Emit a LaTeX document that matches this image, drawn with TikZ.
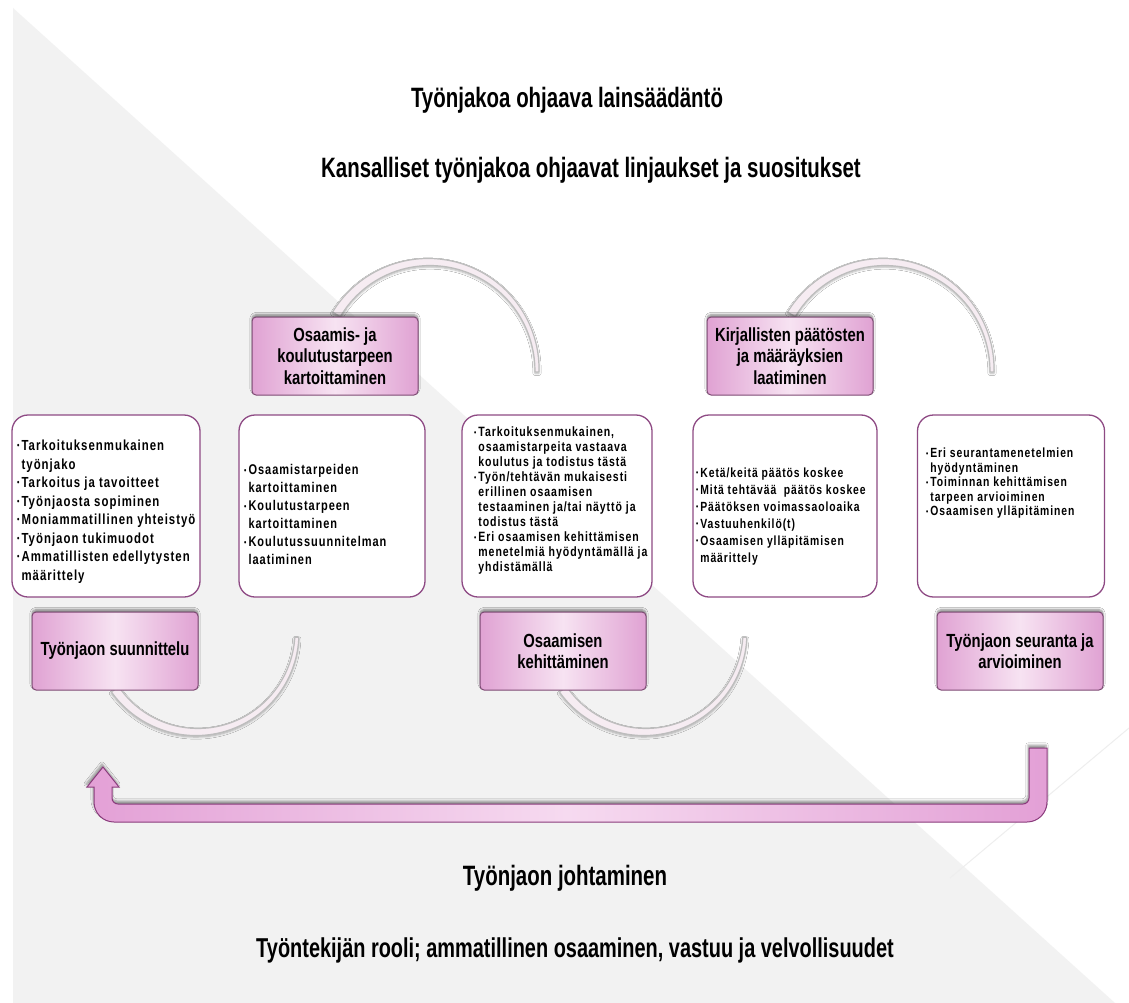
\documentclass[tikz,border=0pt]{standalone}
\usepackage{fontspec}
\usepackage{graphicx}
\setmainfont{Liberation Sans}
\newfontfamily\ttlfont{Liberation Sans}[FakeStretch=0.73]
\newfontfamily\hdfont{Liberation Sans}[FakeStretch=0.78]
\newfontfamily\bxfont{Liberation Sans}[FakeStretch=0.78,LetterSpace=7]
\usetikzlibrary{shadows.blur}

\definecolor{bggray}{HTML}{F2F2F2}
\definecolor{faint}{HTML}{EEEEEE}
\definecolor{pinkD}{HTML}{E0A2D3}
\definecolor{pinkL}{HTML}{F7E3F2}
\definecolor{pinkedge}{HTML}{7E4A74}
\definecolor{wedge}{HTML}{8E4A84}
\definecolor{arcfill}{HTML}{F6ECF2}
\definecolor{arcedge}{HTML}{BDBDBD}
\definecolor{arrD}{HTML}{E3A0D6}
\definecolor{arrL}{HTML}{F6DAF0}
\definecolor{arredge}{HTML}{8A3B7C}

\newcommand\bul{\raisebox{0.12em}{\scalebox{0.6}{\textbullet}}}

% tapered band along a circular arc: centre x, centre y, radius, start angle, sweep
\newcommand\taperarc[5]{%
  \path[arcband]
    plot[domain=0:1,samples=40,smooth]
      ({#1+(#3+(9-5*\x)/2)*cos(#4+(#5)*\x)},{#2-(#3+(9-5*\x)/2)*sin(#4+(#5)*\x)})
    -- plot[domain=1:0,samples=40,smooth]
      ({#1+(#3-(9-5*\x)/2)*cos(#4+(#5)*\x)},{#2-(#3-(9-5*\x)/2)*sin(#4+(#5)*\x)})
    -- cycle;}

\tikzset{
  title/.style={font=\ttlfont\bfseries\fontsize{28}{32}\selectfont, inner sep=0pt},
  pinkbox/.style={draw=pinkedge, line width=1pt, rounded corners=4pt,
    left color=pinkD, right color=pinkD, middle color=pinkL,
    minimum width=166pt, minimum height=78pt, align=center, inner sep=2pt,
    font=\hdfont\bfseries\fontsize{19}{21.5}\selectfont,
    blur shadow={shadow xshift=0pt, shadow yshift=2.5pt, shadow blur steps=6, shadow opacity=45}},
  whitebox/.style={draw=wedge, line width=1.3pt, fill=white, rounded corners=16pt,
    minimum height=182pt, inner sep=0pt},
  listtext/.style={anchor=north west, inner sep=0pt, font=\bxfont\bfseries},
  arcband/.style={fill=arcfill, draw=arcedge, line width=1.2pt,
    blur shadow={shadow xshift=0pt, shadow yshift=-1.5pt, shadow blur steps=5, shadow opacity=30}},
  bigarrow/.style={draw=arredge, line width=1pt,
    left color=arrD, right color=arrD, middle color=arrL,
    blur shadow={shadow xshift=-1pt, shadow yshift=3pt, shadow blur steps=6, shadow opacity=40}},
}

\begin{document}
\begin{tikzpicture}[x=1pt,y=-1pt]
\useasboundingbox (0,0) rectangle (1129,1003);

% background
\fill[white] (0,0) rectangle (1129,1003);
\fill[bggray] (13,8) -- (1115,1003) -- (13,1003) -- cycle;
\draw[faint, line width=1pt] (1129,728) -- (950,878);

% curved links between the stages
\taperarc{429}{370}{108}{149}{-150}
\taperarc{884}{370}{108}{149}{-150}
\taperarc{197}{632}{100}{215}{142}
\taperarc{645}{632}{100}{215}{142}

% headings
\node[title] (law) at (567,100) {Työnjakoa ohjaava lainsäädäntö};
\node[title] (policy) at (591,170) {Kansalliset työnjakoa ohjaavat linjaukset ja suositukset};

% content boxes
\node[whitebox, minimum width=188pt] (w1) at (106,506) {};
\node[whitebox, minimum width=186pt] (w2) at (332,506) {};
\node[whitebox, minimum width=190pt] (w3) at (557,506) {};
\node[whitebox, minimum width=184pt] (w4) at (785,506) {};
\node[whitebox, minimum width=187pt] (w5) at (1011,506) {};

% stage boxes
\node[pinkbox] (needs) at (335,356) {Osaamis- ja\\koulutustarpeen\\kartoittaminen};
\node[pinkbox] (decide) at (790,356) {Kirjallisten päätösten\\ja määräyksien\\laatiminen};
\node[pinkbox] (plan) at (115,651) {Työnjaon suunnittelu};
\node[pinkbox] (develop) at (563,651) {Osaamisen\\kehittäminen};
\node[pinkbox] (monitor) at (1020,651) {Työnjaon seuranta ja\\arvioiminen};

% box contents
\node[listtext] (t1) at (17,437.5) {\fontsize{14.6}{18.5}\selectfont
  \begin{tabular}{@{}l@{\hspace{2pt}}l@{}}
  \bul & Tarkoituksenmukainen\\
       & työnjako\\
  \bul & Tarkoitus ja tavoitteet\\
  \bul & Työnjaosta sopiminen\\
  \bul & Moniammatillinen yhteistyö\\
  \bul & Työnjaon tukimuodot\\
  \bul & Ammatillisten edellytysten\\
       & määrittely
  \end{tabular}};
\node[listtext] (t2) at (244,462) {\fontsize{14.1}{18}\selectfont
  \begin{tabular}{@{}l@{\hspace{2pt}}l@{}}
  \bul & Osaamistarpeiden\\
       & kartoittaminen\\
  \bul & Koulutustarpeen\\
       & kartoittaminen\\
  \bul & Koulutussuunnitelman\\
       & laatiminen
  \end{tabular}};
\node[listtext] (t3) at (474,426) {\fontsize{13.5}{15}\selectfont
  \begin{tabular}{@{}l@{\hspace{2pt}}l@{}}
  \bul & Tarkoituksenmukainen,\\
       & osaamistarpeita vastaava\\
       & koulutus ja todistus tästä\\
  \bul & Työn/tehtävän mukaisesti\\
       & erillinen osaamisen\\
       & testaaminen ja/tai näyttö ja\\
       & todistus tästä\\
  \bul & Eri osaamisen kehittämisen\\
       & menetelmiä hyödyntämällä ja\\
       & yhdistämällä
  \end{tabular}};
\node[listtext] (t4) at (696,465) {\fontsize{13.3}{17}\selectfont
  \begin{tabular}{@{}l@{\hspace{2pt}}l@{}}
  \bul & Ketä/keitä päätös koskee\\
  \bul & Mitä tehtävää\ \ päätös koskee\\
  \bul & Päätöksen voimassaoloaika\\
  \bul & Vastuuhenkilö(t)\\
  \bul & Osaamisen ylläpitämisen\\
       & määrittely
  \end{tabular}};
\node[listtext] (t5) at (926,447.5) {\fontsize{13.3}{14.5}\selectfont
  \begin{tabular}{@{}l@{\hspace{2pt}}l@{}}
  \bul & Eri seurantamenetelmien\\
       & hyödyntäminen\\
  \bul & Toiminnan kehittämisen\\
       & tarpeen arvioiminen\\
  \bul & Osaamisen ylläpitäminen
  \end{tabular}};

% feedback arrow from monitoring back to planning
\path[bigarrow] (1029,748) [rounded corners=6] -- (1029,804) -- (112,804) [sharp corners]
  -- (112,787) -- (119,787) -- (103,767) -- (87,787) -- (94,787)
  [rounded corners=20] -- (94,822) -- (1047,822) [sharp corners] -- (1047,748) -- cycle;

% bottom headings
\node[title] (lead) at (565,878) {Työnjaon johtaminen};
\node[title, font=\ttlfont\bfseries\fontsize{27.3}{32}\selectfont] (role) at (575,950) {Työntekijän rooli; ammatillinen osaaminen, vastuu ja velvollisuudet};
\end{tikzpicture}
\end{document}
